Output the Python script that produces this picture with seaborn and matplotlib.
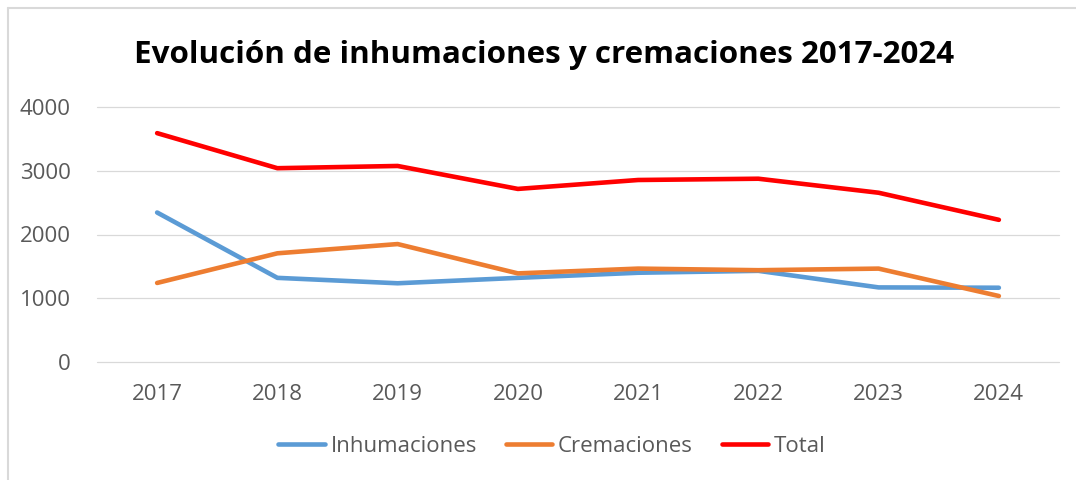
import pandas as pd
import matplotlib
matplotlib.use('Agg')
import matplotlib.pyplot as plt
import seaborn as sns
from matplotlib.lines import Line2D

# data
years = ['2017', '2018', '2019', '2020', '2021', '2022', '2023', '2024']
inhumaciones = [2345, 1320, 1235, 1320, 1400, 1430, 1170, 1165]
cremaciones = [1240, 1705, 1850, 1390, 1465, 1440, 1465, 1035]
total = [3590, 3040, 3075, 2715, 2855, 2875, 2655, 2230]

series_names = ['Inhumaciones', 'Cremaciones', 'Total']
series_colors = ['#5B9BD5', '#ED7D31', '#FF0000']

df = pd.DataFrame({
    'year': years * 3,
    'valor': inhumaciones + cremaciones + total,
    'serie': [s for s in series_names for _ in years],
})

sns.set_style('white')
plt.rcParams['font.family'] = ['Open Sans', 'DejaVu Sans']

W, H = 1076, 480
fig = plt.figure(figsize=(W / 100, H / 100), dpi=100)
ax = fig.add_axes([97 / W, 1 - 362 / H, (1059 - 97) / W, (362 - 107) / H])

sns.lineplot(data=df, x='year', y='valor', hue='serie', palette=series_colors,
             hue_order=series_names, linewidth=3.3, ax=ax, legend=False,
             solid_capstyle='round')

ax.set_xlim(-0.5, len(years) - 0.5)
ax.set_ylim(0, 4000)
ax.set_yticks([0, 1000, 2000, 3000, 4000])
ax.grid(axis='y', color='#D9D9D9', linewidth=0.9)
ax.grid(axis='x', visible=False)
ax.set_axisbelow(True)
for gl in ax.get_ygridlines():
    gl.set_clip_on(False)
for sp in ax.spines.values():
    sp.set_visible(False)
ax.tick_params(axis='both', length=0, labelsize=16, labelcolor='#595959')
ax.tick_params(axis='y', pad=19)
ax.tick_params(axis='x', pad=16)
ax.set_xlabel('')
ax.set_ylabel('')

# title
fig.text(544 / W, 1 - 63.5 / H, 'Evolución de inhumaciones y cremaciones 2017-2024',
         ha='center', va='baseline', fontsize=22.6, fontweight='bold', color='black')

# legend
handles = [Line2D([], [], color=c, linewidth=3.3, solid_capstyle='round') for c in series_colors]
fig.legend(handles, series_names, loc='center', bbox_to_anchor=(552 / W, 1 - 446 / H),
           ncol=3, frameon=False, fontsize=16, labelcolor='#595959',
           handlelength=2.1, handletextpad=0.25, columnspacing=1.3)

# chart area border (left and top)
fig.add_artist(Line2D([8 / W, 8 / W], [0, 1 - 8 / H], transform=fig.transFigure,
                      color='#D9D9D9', linewidth=1.5))
fig.add_artist(Line2D([8 / W, 1], [1 - 8 / H, 1 - 8 / H], transform=fig.transFigure,
                      color='#D9D9D9', linewidth=1.5))

fig.savefig('out.png', dpi=100)
